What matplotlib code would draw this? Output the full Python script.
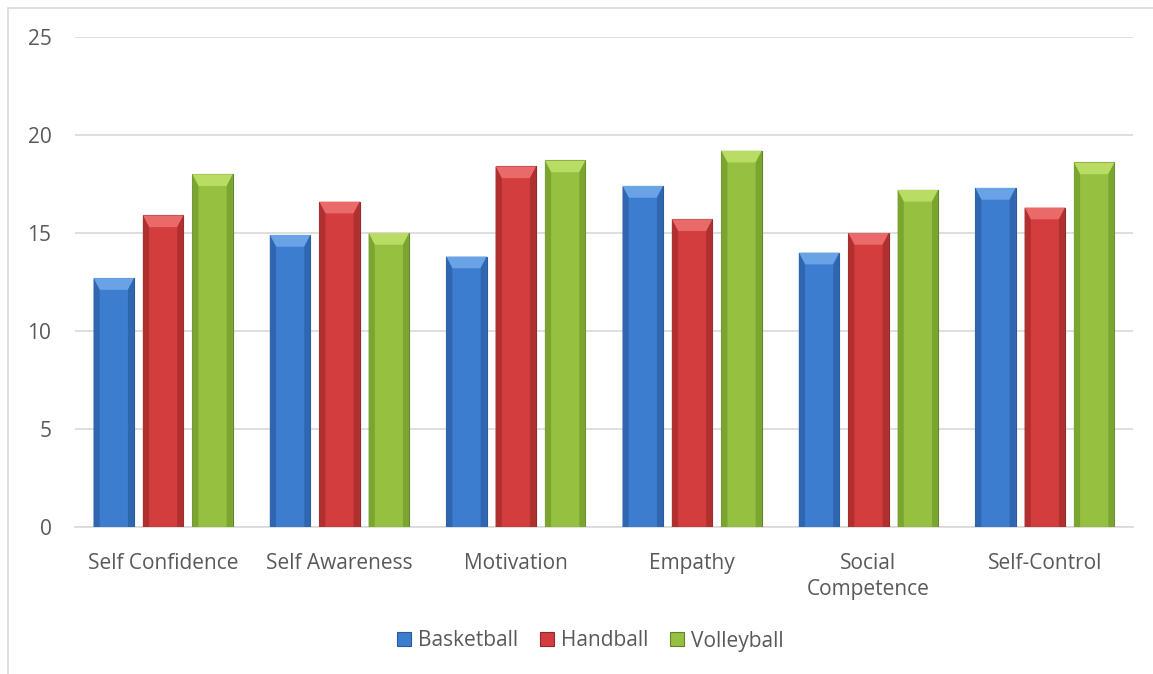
import matplotlib
matplotlib.use("Agg")
import matplotlib.pyplot as plt
import numpy as np
from matplotlib.patches import Rectangle, Polygon

# data
categories = ["Self Confidence", "Self Awareness", "Motivation", "Empathy",
              "Social\nCompetence", "Self-Control"]
basketball = [12.7, 14.9, 13.8, 17.4, 14.0, 17.3]
handball = [15.9, 16.6, 18.4, 15.7, 15.0, 16.3]
volleyball = [18.0, 15.0, 18.7, 19.2, 17.2, 18.6]
series_names = ["Basketball", "Handball", "Volleyball"]

face_cols = ["#3d7dd0", "#d33d3d", "#95c040"]
top_cols = ["#6aa2e6", "#ea6a6a", "#b8dc64"]
side_cols = ["#2f66b0", "#b02f2f", "#7ba531"]
edge_cols = ["#2a5a9a", "#8e2a2a", "#62812a"]

plt.rcParams['font.family'] = ['Open Sans', 'DejaVu Sans']

fig = plt.figure(figsize=(11.53, 6.74), dpi=100)
ax = fig.add_axes([75 / 1153, 1 - 527 / 674, (1133 - 75) / 1153, 490 / 674])

# light outer frame
fig.patches.append(Rectangle((8 / 1153, -0.1), 1.2, 1.1 - 8 / 674, transform=fig.transFigure,
                             fill=False, edgecolor="#d9d9d9", linewidth=1.2))

x = np.arange(len(categories))
w = 0.23
step = 0.28
all_series = [basketball, handball, volleyball]
for i, vals in enumerate(all_series):
    bars = ax.bar(x + (i - 1) * step, vals, width=w, color=face_cols[i],
                  edgecolor=edge_cols[i], linewidth=0.8, label=series_names[i], zorder=3)
    # bevel look: lighter top, darker sides
    for b in bars:
        bx, bw, bh = b.get_x(), b.get_width(), b.get_height()
        dx, dy = 0.035, 0.6
        ax.add_patch(Polygon([(bx, bh), (bx + bw, bh), (bx + bw - dx, bh - dy), (bx + dx, bh - dy)],
                             closed=True, facecolor=top_cols[i], edgecolor="none", zorder=4))
        ax.add_patch(Polygon([(bx, 0), (bx, bh), (bx + dx, bh - dy), (bx + dx, 0)],
                             closed=True, facecolor=side_cols[i], edgecolor="none", zorder=4))
        ax.add_patch(Polygon([(bx + bw, 0), (bx + bw, bh), (bx + bw - dx, bh - dy), (bx + bw - dx, 0)],
                             closed=True, facecolor=side_cols[i], edgecolor="none", zorder=4))

ax.set_xlim(-0.5, len(categories) - 0.5)
ax.set_ylim(0, 25)
ax.set_yticks([0, 5, 10, 15, 20, 25])
ax.yaxis.grid(True, color="#d9d9d9", linewidth=1.2, zorder=0)
ax.set_xticks(x)
ax.set_xticklabels(categories, fontsize=15, color="#595959", linespacing=1.3)
ax.tick_params(axis="y", labelsize=15, labelcolor="#595959", length=0, pad=17)
ax.tick_params(axis="x", length=0, pad=19)
for s in ["top", "right", "left"]:
    ax.spines[s].set_visible(False)
ax.spines["bottom"].set_color("#d9d9d9")
ax.spines["bottom"].set_linewidth(1.2)

leg = fig.legend(loc="center", bbox_to_anchor=(0.512, 1 - 641 / 674), ncol=3, frameon=False,
                 fontsize=15, handlelength=0.65, handleheight=0.65, handletextpad=0.35,
                 columnspacing=1.05)
for t in leg.get_texts():
    t.set_color("#595959")

fig.savefig("out.png", dpi=100)
